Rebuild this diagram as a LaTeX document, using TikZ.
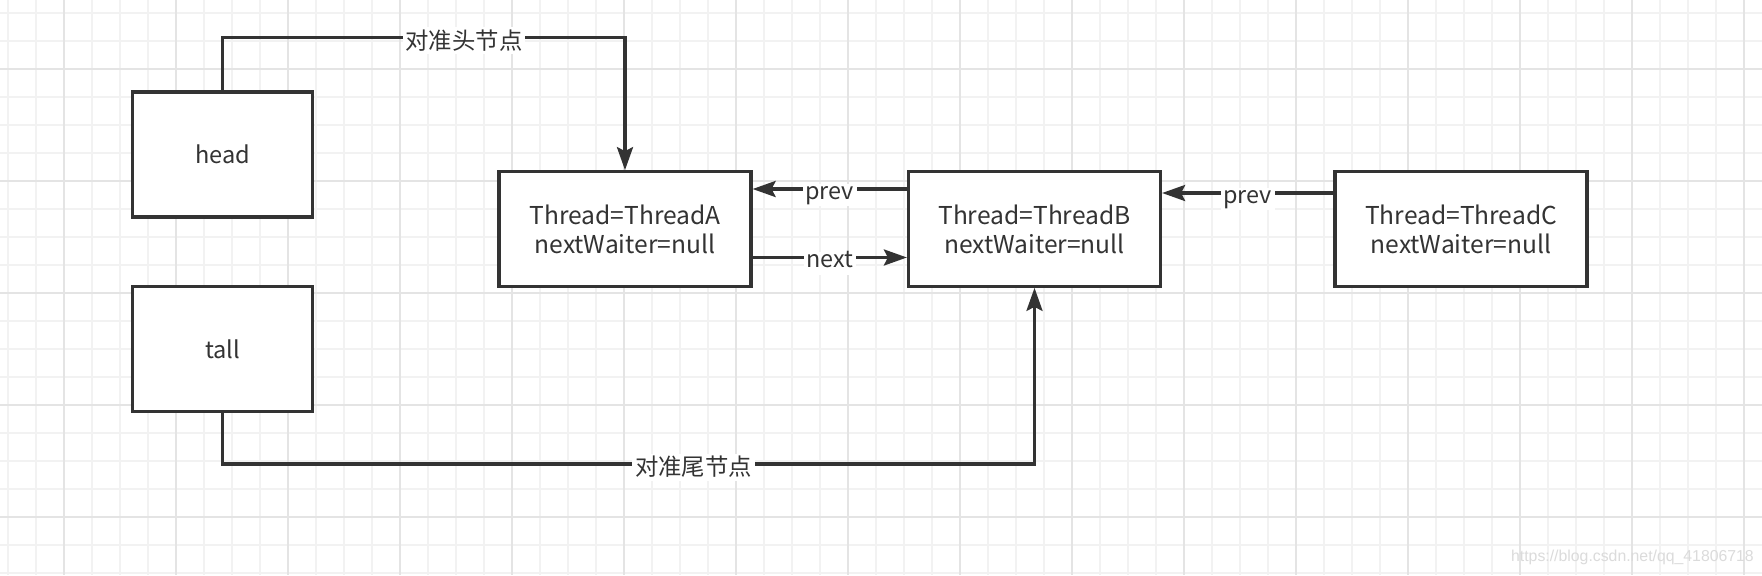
\documentclass[tikz,border=0pt]{standalone}
\usepackage{fontspec}
\setmainfont{Noto Sans CJK SC}
\newfontfamily\urlfont{Liberation Sans}
\usetikzlibrary{arrows.meta}
\definecolor{linegray}{HTML}{333333}
\definecolor{gridminor}{HTML}{F2F2F2}
\definecolor{gridmajor}{HTML}{E4E4E4}

\begin{document}
\begin{tikzpicture}[x=0.02cm,y=-0.02cm,>={Stealth[length=0.46cm,width=0.32cm,inset=0.08cm]},
  box/.style={draw=linegray,line width=0.065cm,fill=white,align=center,inner sep=0pt,
    text=linegray,font=\fontsize{14}{16.5}\selectfont},
  link/.style={draw=linegray,line width=0.065cm},
  lab/.style={fill=white,inner sep=1.5pt,text=linegray,yshift=-0.06cm,font=\fontsize{13.3}{15}\selectfont},
  word/.style={lab,text height=0.75em,text depth=0.25em,yshift=-0.06cm}]
   \useasboundingbox (0,0) rectangle (1762,575);
   \fill[white] (0,0) rectangle (1762,575);
   % 网格
   \foreach \i in {0,...,62} \draw[gridminor,line width=0.04cm] (8+28*\i,0) -- (8+28*\i,575);
   \foreach \j in {0,...,20} \draw[gridminor,line width=0.04cm] (0,13+28*\j) -- (1762,13+28*\j);
   \foreach \i in {0,...,15} \draw[gridmajor,line width=0.05cm] (64+112*\i,0) -- (64+112*\i,575);
   \foreach \j in {0,...,4} \draw[gridmajor,line width=0.05cm] (0,69+112*\j) -- (1762,69+112*\j);

   % 节点
   \node[box,minimum width=3.6cm,minimum height=2.5cm,font=\fontsize{13.4}{15}\selectfont] (head) at (222.5,154.5) {head};
   \node[box,minimum width=3.6cm,minimum height=2.5cm,font=\fontsize{13.4}{15}\selectfont] (tall) at (222.5,349) {tall};
   \node[box,minimum width=5.04cm,minimum height=2.29cm] (A) at (625,229) {Thread=ThreadA\\nextWaiter=null};
   \node[box,minimum width=5.04cm,minimum height=2.29cm] (B) at (1034.5,229) {Thread=ThreadB\\nextWaiter=null};
   \node[box,minimum width=5.04cm,minimum height=2.29cm] (C) at (1461,229) {Thread=ThreadC\\nextWaiter=null};

   % 连线
   \draw[link,->] (head.north) -- ++(0,-53) -| node[lab,pos=0.3]{对准头节点} (A.north);
   \draw[link,->] (tall.south) -- ++(0,51) -| node[lab,pos=0.29]{对准尾节点} (B.south);
   \draw[link,->] ([yshift=0.8cm]B.west) -- node[word]{prev} ([yshift=0.8cm]A.east);
   \draw[link,->] ([yshift=-0.57cm]A.east) -- node[word]{next} ([yshift=-0.57cm]B.west);
   \draw[link,->] ([yshift=0.72cm]C.west) -- node[word]{prev} ([yshift=0.72cm]B.east);

   \node[anchor=east,text=black!14,font=\urlfont\fontsize{9}{10}\selectfont] (wm) at (1760,557) {https://blog.csdn.net/qq\_41806718};
\end{tikzpicture}
\end{document}
